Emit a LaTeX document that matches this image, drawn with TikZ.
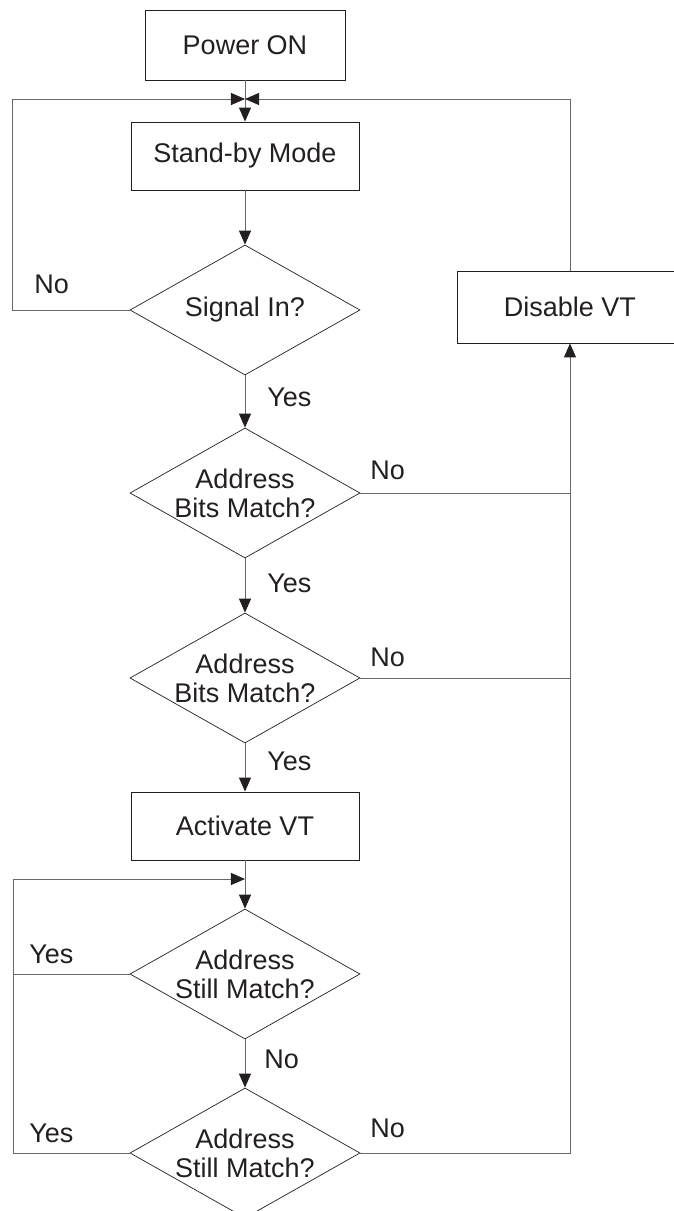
\documentclass[tikz,border=0pt]{standalone}
\usepackage{fontspec}
\setmainfont{Liberation Sans}
\usetikzlibrary{shapes.geometric,arrows.meta}
\definecolor{ink}{RGB}{35,31,32}
\definecolor{wiregray}{RGB}{105,105,105}

\begin{document}
\begin{tikzpicture}[x=0.025cm,y=-0.025cm,font=\fontsize{19.2}{20.6}\selectfont,text=ink,
  box/.style={draw=ink,line width=0.6pt,inner sep=0pt,minimum width=5.7cm,minimum height=1.7cm},
  test/.style={draw=ink,line width=0.5pt,diamond,aspect=1.77,inner sep=0pt,align=center,minimum width=5.75cm,minimum height=3.25cm},
  wire/.style={draw=wiregray,line width=0.7pt},
  arr/.style={wire,-{Triangle[length=0.35cm,width=0.3cm,color=ink]}},
  lbl/.style={anchor=base west,inner sep=0pt}]
\useasboundingbox (0,0) rectangle (673,1211);

% boxes and tests
\node[box,minimum width=5cm,minimum height=1.75cm] (power) at (245,45) {Power ON};
\node[box] (standby) at (245,156) {Stand-by Mode};
\node[test] (signal) at (245,310) {Signal In?};
\node[box,minimum width=5.65cm,minimum height=1.8cm] (disable) at (570,307) {Disable VT};
\node[test] (match1) at (245,493) {Address\\Bits Match?};
\node[test] (match2) at (245,678) {Address\\Bits Match?};
\node[box] (activate) at (245,826) {Activate VT};
\node[test] (still1) at (245,974) {Address\\Still Match?};
\node[test] (still2) at (245,1153) {Address\\Still Match?};

\coordinate (join) at (245,99);
\coordinate (lefttop) at (12,99);
\coordinate (loop) at (245,879);
\coordinate (leftloop) at (13,879);

% connectors
\draw[arr] (power) -- (standby);
\draw[arr] (signal.west) -| (lefttop) -- (join);
\draw[arr] (disable.north) |- (join);
\draw[arr] (standby) -- (signal);
\draw[arr] (signal) -- (match1);
\draw[wire] (match1.east) -- (match1.east -| disable.south);
\draw[arr] (match1) -- (match2);
\draw[wire] (match2.east) -- (match2.east -| disable.south);
\draw[arr] (match2) -- (activate);
\draw[arr] (activate) -- (still1);
\draw[arr] (still2.west) -| (leftloop) -- (loop);
\draw[wire] (still1.west) -- (still1.west -| leftloop);
\draw[arr] (still1) -- (still2);
\draw[arr] (still2.east) -| (disable.south);

% labels
\node[lbl] (nosignal) at (34,293) {No};
\node[lbl] (yessignal) at (267,406) {Yes};
\node[lbl] (nomatch1) at (370,479) {No};
\node[lbl] (yesmatch1) at (267,592) {Yes};
\node[lbl] (nomatch2) at (370,666) {No};
\node[lbl] (yesmatch2) at (267,770) {Yes};
\node[lbl] (yesstill1) at (29,963) {Yes};
\node[lbl] (nostill1) at (264,1068) {No};
\node[lbl] (yesstill2) at (29,1142) {Yes};
\node[lbl] (nostill2) at (370,1137) {No};

\end{tikzpicture}
\end{document}
